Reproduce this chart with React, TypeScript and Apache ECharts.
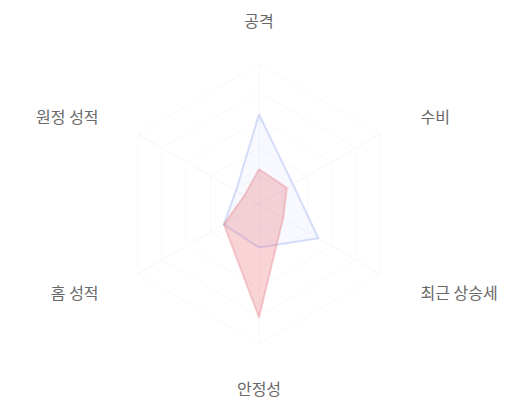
import React, { useEffect, useRef } from 'react';
import * as echarts from 'echarts';

// indicator order runs counter-clockwise from the top
const indicatorNames = ['공격', '원정 성적', '홈 성적', '안정성', '최근 상승세', '수비'];
const indicatorMax = 100;
const leftNames = ['원정 성적', '홈 성적'];
const rightNames = ['최근 상승세', '수비'];

const blueValues = [64, 19, 29, 31, 49, 28];
const redValues = [25, 12, 29, 81, 20, 23];

const App: React.FC = () => {
  const chartRef = useRef<HTMLDivElement>(null);

  useEffect(() => {
    document.body.style.margin = '0';
    if (!chartRef.current) return;
    const chart = echarts.init(chartRef.current, undefined, { renderer: 'svg' });

    const labelText = { color: '#686868', fontSize: 16, fontFamily: 'Noto Sans CJK KR' };

    chart.setOption({
      animation: false,
      radar: {
        center: [259, 204],
        radius: 140,
        splitNumber: 5,
        nameGap: 36,
        indicator: indicatorNames.map((name) => ({ name, max: indicatorMax })),
        axisName: {
          ...labelText,
          // side labels sit a bit further out than top/bottom ones
          formatter: (name: string) => {
            if (leftNames.includes(name)) return `{l|${name}}`;
            if (rightNames.includes(name)) return `{r|${name}}`;
            return name;
          },
          rich: {
            l: { ...labelText, padding: [0, 8, 0, 0] },
            r: { ...labelText, padding: [0, 0, 0, 9] },
          },
        },
        axisLine: { lineStyle: { color: '#f6f6f8' } },
        splitLine: { lineStyle: { color: '#f3f4f7', type: 'dotted' } },
        splitArea: { show: false },
      },
      series: [
        {
          type: 'radar',
          symbol: 'none',
          data: [
            {
              value: blueValues,
              lineStyle: { color: '#7b95f0', width: 2, opacity: 0.3 },
              areaStyle: { color: '#7b95f0', opacity: 0.06 },
            },
            {
              value: redValues,
              lineStyle: { color: '#e56a78', width: 2, opacity: 0.3 },
              areaStyle: { color: '#e8707a', opacity: 0.3 },
            },
          ],
        },
      ],
    });

    return () => chart.dispose();
  }, []);

  return <div ref={chartRef} style={{ width: 520, height: 400 }} />;
};

export default App;
